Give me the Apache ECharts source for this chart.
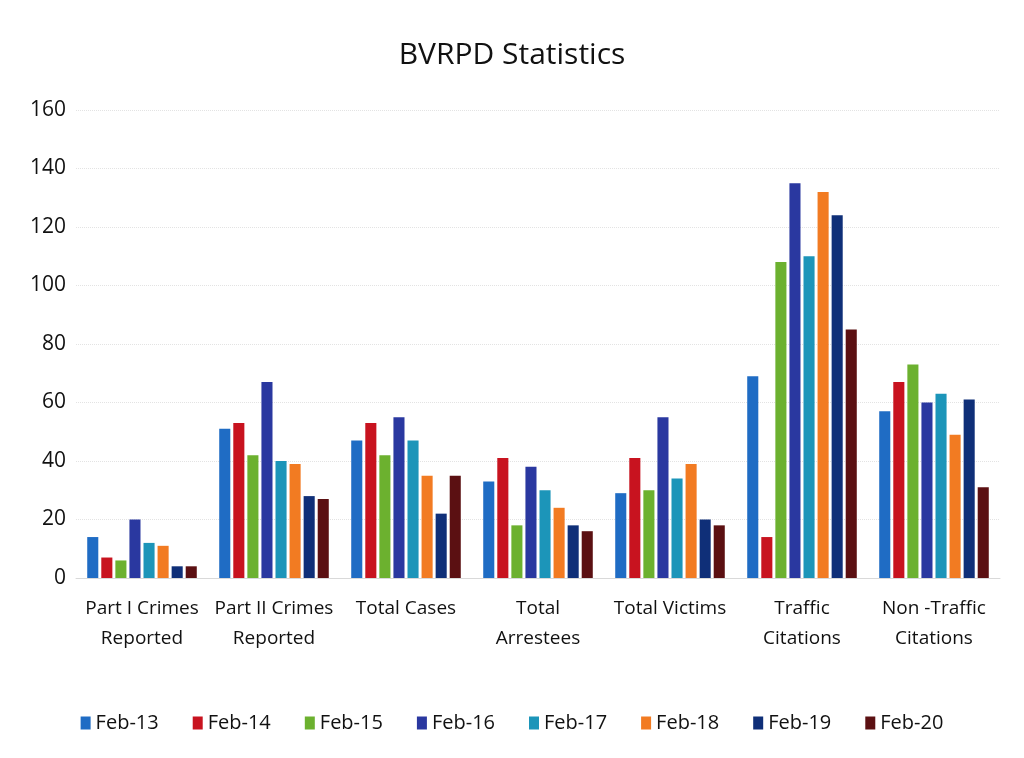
<!DOCTYPE html>
<html>
<head>
<meta charset="utf-8">
<title>BVRPD Statistics</title>
<script src="https://cdn.jsdelivr.net/npm/echarts@6/dist/echarts.min.js"></script>
<style>
  html, body { margin: 0; padding: 0; background: #fff; }
  #chart { width: 1024px; height: 758px; }
</style>
</head>
<body>
<div id="chart"></div>
<script>
// categories
const categories = [
  'Part I Crimes\nReported',
  'Part II Crimes\nReported',
  'Total Cases',
  'Total\nArrestees',
  'Total Victims',
  'Traffic\nCitations',
  'Non -Traffic\nCitations'
];

// one array per period, in category order
const feb13 = [14, 51, 47, 33, 29, 69, 57];
const feb14 = [7, 53, 53, 41, 41, 14, 67];
const feb15 = [6, 42, 42, 18, 30, 108, 73];
const feb16 = [20, 67, 55, 38, 55, 135, 60];
const feb17 = [12, 40, 47, 30, 34, 110, 63];
const feb18 = [11, 39, 35, 24, 39, 132, 49];
const feb19 = [4, 28, 22, 18, 20, 124, 61];
const feb20 = [4, 27, 35, 16, 18, 85, 31];

const seriesNames = ['Feb-13', 'Feb-14', 'Feb-15', 'Feb-16', 'Feb-17', 'Feb-18', 'Feb-19', 'Feb-20'];
const seriesData = [feb13, feb14, feb15, feb16, feb17, feb18, feb19, feb20];
const colors = ['#1f6cc4', '#c8131f', '#6cb12f', '#2a38a0', '#1c95b9', '#f27b22', '#0f2f78', '#5b1012'];

const yTicks = [0, 20, 40, 60, 80, 100, 120, 140, 160];

const font = '"Open Sans", "Liberation Sans", sans-serif';

const chart = echarts.init(document.getElementById('chart'));

chart.setOption({
  backgroundColor: '#fff',
  animation: false,
  color: colors,
  title: {
    text: 'BVRPD Statistics',
    left: 'center',
    top: 35,
    textStyle: { fontFamily: font, fontSize: 30, fontWeight: 'normal', color: '#111' }
  },
  legend: {
    bottom: 20,
    left: 'center',
    itemWidth: 10,
    itemHeight: 13,
    itemGap: 34,
    icon: 'rect',
    textStyle: { fontFamily: font, fontSize: 20, color: '#111' },
    data: seriesNames
  },
  grid: { left: 76, right: 24, top: 110, bottom: 180 },
  xAxis: {
    type: 'category',
    data: categories,
    axisTick: { show: false },
    axisLine: { lineStyle: { color: '#d9d9d9' } },
    axisLabel: {
      interval: 0,
      margin: 16,
      lineHeight: 30,
      fontFamily: font,
      fontSize: 19,
      color: '#111'
    }
  },
  yAxis: {
    type: 'value',
    min: yTicks[0],
    max: yTicks[yTicks.length - 1],
    interval: 20,
    axisLine: { show: false },
    axisTick: { show: false },
    axisLabel: { fontFamily: font, fontSize: 21, color: '#111', margin: 10 },
    splitLine: { lineStyle: { color: '#e3e3e3', type: 'dotted' } }
  },
  series: seriesNames.map((name, i) => ({
    name: name,
    type: 'bar',
    data: seriesData[i],
    barGap: '27%',
    barCategoryGap: '17%'
  }))
});
</script>
</body>
</html>
